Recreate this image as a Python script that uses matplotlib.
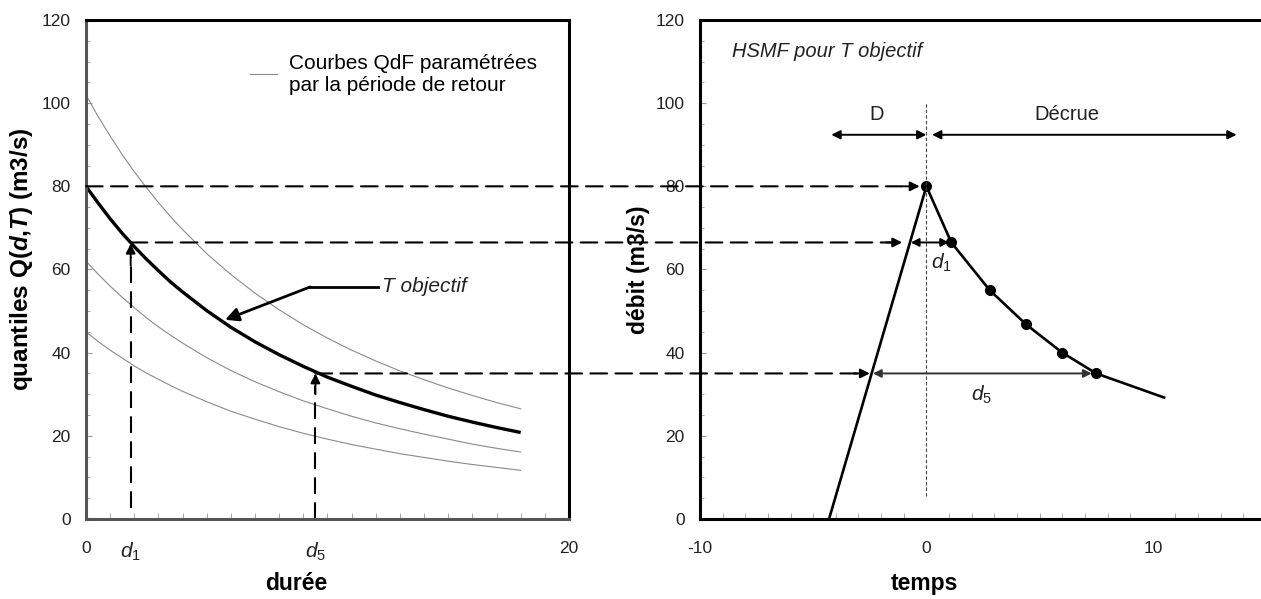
import matplotlib
matplotlib.use("Agg")
import matplotlib.pyplot as plt
from matplotlib.patches import ConnectionPatch
from matplotlib.ticker import MultipleLocator

plt.rcParams["font.family"] = ["Liberation Sans", "DejaVu Sans"]
plt.rcParams["axes.unicode_minus"] = False
plt.rcParams["mathtext.fontset"] = "custom"
plt.rcParams["mathtext.rm"] = "Liberation Sans"
plt.rcParams["mathtext.it"] = "Liberation Sans:italic"
plt.rcParams["mathtext.bf"] = "Liberation Sans:bold"
plt.rcParams["mathtext.bfit"] = "Liberation Sans:bold:italic"

# --- donnees -------------------------------------------------------------
duree = [0, 0.5, 1, 1.5, 2, 2.5, 3, 3.5, 4, 5, 6, 7, 8, 9, 10,
         11, 12, 13, 14, 15, 16, 17, 18]
q_T_objectif = [80.0, 76.0, 72.2, 68.7, 65.5, 62.5, 59.7, 57.0, 54.6, 50.1,
                46.1, 42.6, 39.5, 36.7, 34.1, 31.9, 29.8, 28.0, 26.3, 24.7,
                23.3, 22.0, 20.8]
q_haut = [102.0, 96.8, 92.1, 87.6, 83.5, 79.7, 76.1, 72.7, 69.6, 63.8,
          58.8, 54.3, 50.3, 46.7, 43.5, 40.6, 38.0, 35.6, 33.5, 31.5,
          29.7, 28.0, 26.5]
q_milieu = [62.0, 58.9, 56.0, 53.3, 50.8, 48.4, 46.2, 44.2, 42.3, 38.8,
            35.7, 33.0, 30.6, 28.4, 26.5, 24.7, 23.1, 21.7, 20.4, 19.2,
            18.0, 17.0, 16.1]
q_bas = [45.0, 42.7, 40.6, 38.7, 36.8, 35.1, 33.6, 32.1, 30.7, 28.2,
         25.9, 24.0, 22.2, 20.6, 19.2, 17.9, 16.8, 15.7, 14.8, 13.9,
         13.1, 12.4, 11.7]

t_hydro = [-4.3, 0.0, 1.1, 2.8, 4.4, 6.0, 7.5, 10.5]
q_hydro = [0.0, 80.0, 66.5, 55.0, 46.8, 40.0, 35.0, 29.2]
t_points = [0.0, 1.1, 2.8, 4.4, 6.0, 7.5]
q_points = [80.0, 66.5, 55.0, 46.8, 40.0, 35.0]

D1, Q1 = 1.85, 66.5
D5, Q5 = 9.5, 35.0
Q0 = 80.0

DASH = (0, (8, 4))


def fleche(ax, x0, y0, x1, y1, style="-|>", lw=1.4, color="black", ms=14):
    ax.annotate("", xy=(x1, y1), xytext=(x0, y0),
                arrowprops=dict(arrowstyle=style, lw=lw, color=color,
                                shrinkA=0, shrinkB=0, mutation_scale=ms))


def habille(ax, xmin, xmax, spine_col):
    ax.set_ylim(0, 120)
    ax.set_xlim(xmin, xmax)
    ax.yaxis.set_major_locator(MultipleLocator(20))
    ax.yaxis.set_minor_locator(MultipleLocator(5))
    ax.xaxis.set_minor_locator(MultipleLocator(1))
    ax.tick_params(which="both", direction="in", colors="#999999",
                   labelcolor="#222222", labelsize=12.5)
    ax.tick_params(axis="y", which="major", length=4, pad=11)
    ax.tick_params(axis="y", which="minor", length=3)
    ax.tick_params(axis="x", which="major", length=0, pad=16)
    ax.tick_params(axis="x", which="minor", length=4)
    for side in ["left", "bottom"]:
        ax.spines[side].set_color(spine_col)
        ax.spines[side].set_linewidth(2.2)
    for side in ["top", "right"]:
        ax.spines[side].set_color("black")
        ax.spines[side].set_linewidth(2.2)


fig = plt.figure(figsize=(12.61, 5.99), dpi=100)
ax1 = fig.add_axes([0.0682, 0.1336, 0.383, 0.833])
ax2 = fig.add_axes([0.5551, 0.1336, 0.4489, 0.833])

# --- panneau gauche : courbes QdF ----------------------------------------
habille(ax1, 0, 20, "#555555")
for q in (q_haut, q_milieu, q_bas):
    ax1.plot(duree, q, color="#8a8a8a", lw=0.8, label="_")
ax1.lines[0].set_label("Courbes QdF paramétrées\npar la période de retour")
ax1.plot(duree, q_T_objectif, color="black", lw=2.4, solid_capstyle="butt",
         solid_joinstyle="round")
ax1.set_xticks([0, D1, D5, 20])
ax1.set_xticklabels(["0", "$d_1$", "$d_5$", "20"])
for lbl in ax1.get_xticklabels()[1:3]:
    lbl.set_fontsize(15)
ax1.set_xlabel("durée", fontsize=16.5, fontweight="bold")
ax1.xaxis.set_label_coords(0.435, -0.106)
ax1.set_ylabel(r"quantiles Q($\mathbfit{d}$,$\mathbfit{T}$) (m3/s)",
               fontsize=17.5, fontweight="bold")
ax1.yaxis.set_label_coords(-0.105, 0.52)
leg = ax1.legend(loc="upper left", bbox_to_anchor=(0.3, 0.97), frameon=False,
                 fontsize=15, handlelength=1.3, handletextpad=0.6)

# fleches verticales d1, d5
ax1.plot([D1, D1], [2.6, 63], color="black", lw=1.5, ls=DASH)
fleche(ax1, D1, 61, D1, Q1 - 0.3)
ax1.plot([D5, D5], [0, 32], color="black", lw=1.5, ls=DASH)
fleche(ax1, D5, 30, D5, Q5)

# annotation T objectif
ax1.plot([12.1, 9.28], [55.8, 55.8], color="black", lw=2.0)
fleche(ax1, 9.28, 55.8, 5.76, 47.9, lw=2.0, ms=20)
ax1.text(12.25, 55.8, "T objectif", fontsize=15, style="italic",
         va="center", ha="left", color="#222222")

# --- panneau droit : hydrogramme -----------------------------------------
habille(ax2, -10, 15, "black")
ax2.set_xticks([-10, 0, 10])
ax2.spines["right"].set_visible(False)
ax2.plot(t_hydro, q_hydro, color="black", lw=1.9)
ax2.plot(t_points, q_points, "o", color="black", ms=7)
ax2.plot([0, 0], [5.6, 100], color="#444444", lw=0.8, ls=(0, (3, 2)))
ax2.set_xlabel("temps", fontsize=16.5, fontweight="bold")
ax2.xaxis.set_label_coords(0.397, -0.106)
ax2.set_ylabel("débit (m3/s)", fontsize=16.5, fontweight="bold")
ax2.yaxis.set_label_coords(-0.088, 0.5)

ax2.text(-8.6, 112.4, "HSMF pour T objectif", fontsize=14.5, style="italic",
         va="center", ha="left", color="#222222")
fleche(ax2, 0, 92.4, -4.2, 92.4, style="<|-|>", lw=1.4, ms=13)
fleche(ax2, 0.25, 92.4, 13.7, 92.4, style="<|-|>", lw=1.4, ms=13)
ax2.text(-2.2, 97.2, "D", fontsize=14.5, ha="center", va="center", color="#222222")
ax2.text(6.2, 97.2, "Décrue", fontsize=14.5, ha="center", va="center", color="#222222")

fleche(ax2, -0.69, Q1, 1.0, Q1, style="<|-|>", lw=1.4, ms=12)
fleche(ax2, -2.36, Q5, 7.3, Q5, style="<|-|>", lw=1.4, ms=12, color="#333333")
ax2.text(0.2, 61.5, "$d_1$", fontsize=15, ha="left", va="center", color="#222222")
ax2.text(2.45, 29.8, "$d_5$", fontsize=15, ha="center", va="center", color="#222222")

# --- lignes de rappel entre les deux panneaux ------------------------------
for (xa, y, tip) in [(0.0, Q0, -0.3), (D1, Q1, -1.07), (D5, Q5, -2.5)]:
    con = ConnectionPatch(xyA=(xa, y), coordsA=ax1.transData,
                          xyB=(tip - 0.5, y), coordsB=ax2.transData,
                          color="black", lw=1.5, linestyle=DASH)
    fig.add_artist(con)
    fleche(ax2, tip - 0.7, y, tip, y)

fig.savefig("out.png", dpi=100)
